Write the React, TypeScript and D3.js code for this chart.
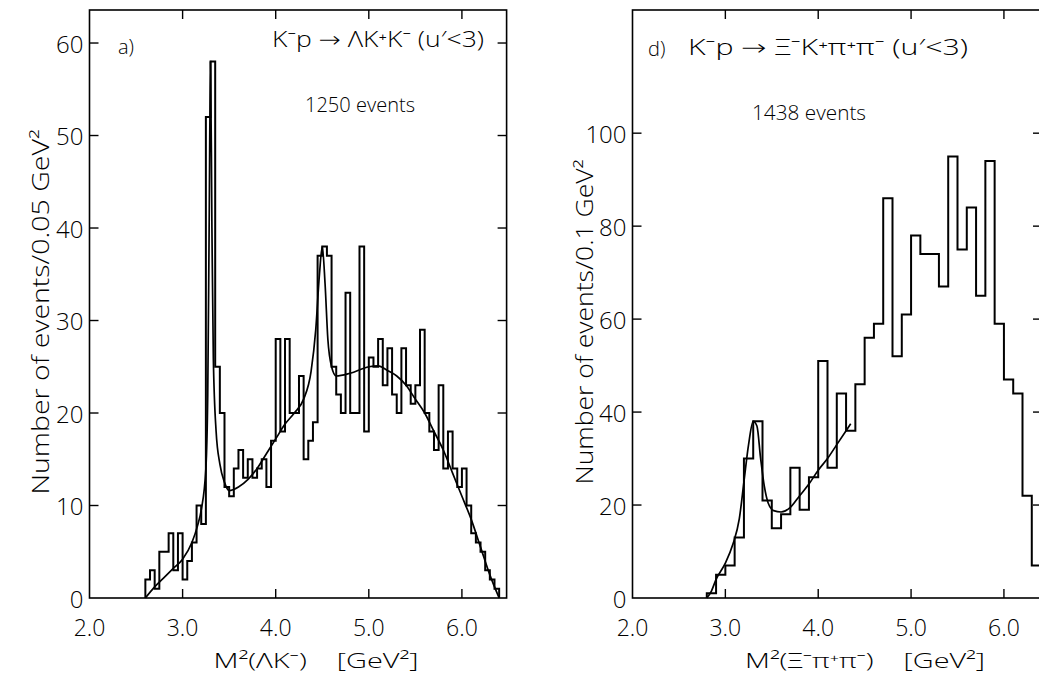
import React from "react";
import * as d3 from "d3";

// ---------- data ----------
const leftStart = 2.6;
const leftBinWidth = 0.05;
const leftCounts = [
  2, 3, 1, 5, 5, 7, 3, 7, 2, 4, 6, 10, 8, 52, 58, 25, 20, 12, 11, 14,
  16, 13, 15, 13, 14, 15, 12, 17, 28, 18, 28, 20, 20, 24, 15, 17, 19, 37, 38, 37,
  25, 22, 20, 33, 20, 20, 38, 18, 26, 25, 28, 23, 27, 22, 20, 27, 23, 21, 23, 29,
  20, 18, 16, 23, 14, 18, 14, 12, 14, 10, 7, 6, 5, 3, 2, 1,
];
const leftFitX = [2.6, 2.7, 2.8, 2.9, 3.0, 3.1, 3.16, 3.2, 3.25, 3.27, 3.285, 3.3, 3.315, 3.33, 3.36, 3.4, 3.45, 3.5, 3.6, 3.7, 3.8, 3.9, 4.0, 4.1, 4.2, 4.3, 4.38, 4.43, 4.47, 4.5, 4.53, 4.56, 4.6, 4.65, 4.8, 5.0, 5.1, 5.2, 5.3, 5.4, 5.5, 5.6, 5.7, 5.8, 5.9, 6.0, 6.1, 6.2, 6.3, 6.4];
const leftFitY = [0, 1.2, 2.2, 3.2, 4.2, 6, 7.8, 9.5, 14, 22, 40, 58, 40, 26, 18, 14.5, 12.5, 11.6, 12, 12.8, 14, 15.6, 17.2, 18.8, 20, 21.5, 24.5, 29, 35, 38, 34, 28, 25, 24, 24.3, 25, 25.1, 24.6, 24, 23, 21.5, 20, 18, 16, 13.5, 11, 8.5, 5.5, 2.5, 0];

const rightStart = 2.8;
const rightBinWidth = 0.1;
const rightCounts = [
  1, 5, 7, 13, 30, 38, 21, 15, 18, 28, 19, 26, 51, 28, 44, 36, 46, 56, 59, 86,
  52, 61, 78, 74, 74, 67, 95, 75, 84, 65, 94, 59, 47, 44, 22, 7,
];
const rightFitX = [2.8, 2.85, 2.9, 3.0, 3.08, 3.15, 3.2, 3.25, 3.3, 3.34, 3.38, 3.42, 3.46, 3.52, 3.6, 3.7, 3.8, 3.9, 4.0, 4.1, 4.2, 4.3, 4.35];
const rightFitY = [0, 1.5, 4, 7.5, 11.5, 17, 25, 33, 38, 37, 30, 24, 20.5, 18.8, 18.5, 19.5, 22, 24.5, 27.5, 30, 33, 36, 37.5];

const xTickValues = [2, 3, 4, 5, 6];
const xTickLabels = ["2.0", "3.0", "4.0", "5.0", "6.0"];
const leftYTicks = [0, 10, 20, 30, 40, 50, 60];
const rightYTicks = [0, 20, 40, 60, 80, 100];

// ---------- helpers ----------
const FONT = "'Open Sans', 'Noto Sans', 'DejaVu Sans', sans-serif";
const FW = 300;

function histPath(start: number, w: number, counts: number[], x: any, y: any) {
  const p = d3.path();
  p.moveTo(x(start), y(0));
  counts.forEach((c, i) => {
    p.lineTo(x(start + i * w), y(c));
    p.lineTo(x(start + (i + 1) * w), y(c));
  });
  p.lineTo(x(start + counts.length * w), y(0));
  return p.toString();
}

function Panel(props: any) {
  const { x, y, counts, start, w, fitX, fitY, yTicks, tickLen } = props;
  const [x0, x1] = x.range();
  const [y1, y0] = y.range();
  const line = d3
    .line<number>()
    .x((_, i) => x(fitX[i]))
    .y((d) => y(d))
    .curve(d3.curveMonotoneX);
  return (
    <g>
      <rect x={x0} y={y0} width={x1 - x0} height={y1 - y0} fill="none" stroke="#000" strokeWidth={1.6} />
      {yTicks.filter((t: number) => t > 0).map((t: number) => (
        <g key={"yt" + t}>
          <line x1={x0} x2={x0 + tickLen} y1={y(t)} y2={y(t)} stroke="#000" strokeWidth={1.4} />
          <line x1={x1} x2={x1 - tickLen} y1={y(t)} y2={y(t)} stroke="#000" strokeWidth={1.4} />
        </g>
      ))}
      {xTickValues.filter((t) => t > 2).map((t) => (
        <g key={"xt" + t}>
          <line x1={x(t)} x2={x(t)} y1={y1} y2={y1 - tickLen} stroke="#000" strokeWidth={1.4} />
          <line x1={x(t)} x2={x(t)} y1={y0} y2={y0 + tickLen} stroke="#000" strokeWidth={1.4} />
        </g>
      ))}
      <path d={histPath(start, w, counts, x, y)} fill="none" stroke="#000" strokeWidth={2} strokeLinejoin="miter" />
      <path d={line(fitY) || ""} fill="none" stroke="#000" strokeWidth={1.7} />
      {yTicks.map((t: number) => (
        <text key={"yl" + t} x={x0 - 6} y={y(t)} textAnchor="end" dominantBaseline="central" fontSize={24} fontWeight={FW} fontFamily={FONT}>
          {t}
        </text>
      ))}
      {xTickValues.map((t, i) => (
        <text key={"xl" + t} x={x(t)} y={636} textAnchor="middle" fontSize={23} fontWeight={FW} fontFamily={FONT}>
          {xTickLabels[i]}
        </text>
      ))}
    </g>
  );
}

export default function App() {
  const xL = d3.scaleLinear().domain([2, 6.48]).range([89.5, 506.6]);
  const yL = d3.scaleLinear().domain([0, 63.57]).range([598, 10]);
  const xR = d3.scaleLinear().domain([2, 6.41]).range([632.5, 1042]);
  const yR = d3.scaleLinear().domain([0, 126.5]).range([598, 10]);
  return (
    <svg width={1039} height={679} style={{ position: "absolute", left: 0, top: 0, background: "#fff" }}>
      <rect width={1039} height={679} fill="#fff" />
      <Panel x={xL} y={yL} counts={leftCounts} start={leftStart} w={leftBinWidth} fitX={leftFitX} fitY={leftFitY} yTicks={leftYTicks} tickLen={9} />
      <Panel x={xR} y={yR} counts={rightCounts} start={rightStart} w={rightBinWidth} fitX={rightFitX} fitY={rightFitY} yTicks={rightYTicks} tickLen={9} />

      {/* left annotations */}
      <text x={118} y={54} fontSize={20} fontWeight={FW} fontFamily={FONT}>a)</text>
      <text x={272} y={47} fontSize={22} fontWeight={FW} fontFamily={FONT} textLength={212} lengthAdjust="spacingAndGlyphs">K⁻p → ΛK⁺K⁻ (u′&lt;3)</text>
      <text x={305} y={112} fontSize={21} fontWeight={FW} fontFamily={FONT} textLength={110} lengthAdjust="spacingAndGlyphs">1250 events</text>
      <text x={40} y={312} fontSize={23} fontWeight={FW} fontFamily={FONT} textAnchor="middle" dominantBaseline="central" textLength={365} lengthAdjust="spacingAndGlyphs" transform="rotate(-90 40 312)">
        Number of events/0.05 GeV²
      </text>
      <text x={316} y={668} fontSize={21} fontWeight={FW} fontFamily={FONT} textAnchor="middle" xmlSpace="preserve" textLength={205} lengthAdjust="spacingAndGlyphs">
        M²(ΛK⁻)    [GeV²]
      </text>

      {/* right annotations */}
      <text x={648} y={56} fontSize={20} fontWeight={FW} fontFamily={FONT}>d)</text>
      <text x={688} y={55} fontSize={22} fontWeight={FW} fontFamily={FONT} textLength={280} lengthAdjust="spacingAndGlyphs">K⁻p → Ξ⁻K⁺π⁺π⁻ (u′&lt;3)</text>
      <text x={752} y={120} fontSize={21} fontWeight={FW} fontFamily={FONT} textLength={114} lengthAdjust="spacingAndGlyphs">1438 events</text>
      <text x={584} y={322} fontSize={23} fontWeight={FW} fontFamily={FONT} textAnchor="middle" dominantBaseline="central" textLength={325} lengthAdjust="spacingAndGlyphs" transform="rotate(-90 584 322)">
        Number of events/0.1 GeV²
      </text>
      <text x={865} y={668} fontSize={21} fontWeight={FW} fontFamily={FONT} textAnchor="middle" xmlSpace="preserve" textLength={240} lengthAdjust="spacingAndGlyphs">
        M²(Ξ⁻π⁺π⁻)    [GeV²]
      </text>
    </svg>
  );
}
